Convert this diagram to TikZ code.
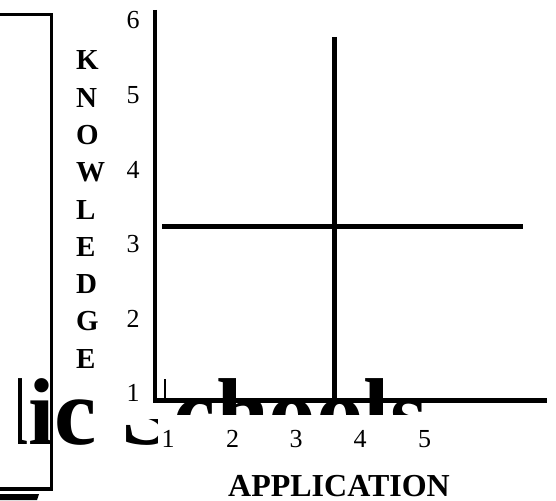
\documentclass[tikz,border=0pt]{standalone}
\usepackage{fontspec}
\setmainfont{Liberation Serif}

\begin{document}
\begin{tikzpicture}[x=1pt,y=-1pt,
  banner/.style={font=\bfseries\fontsize{95}{95}\selectfont, inner sep=0pt, outer sep=0pt},
  numlab/.style={font=\fontsize{26}{26}\selectfont, inner sep=0pt, anchor=base},
  axletter/.style={font=\bfseries\fontsize{29}{29}\selectfont, inner sep=0pt, anchor=base west},
  axtitle/.style={font=\bfseries\fontsize{32}{32}\selectfont, inner sep=0pt, anchor=base}]
\useasboundingbox (0,0) rectangle (556,500);
% leftover title, mostly hidden
\begin{scope}
\clip (17.5,360) rectangle (110,470) (110,419) rectangle (157,470) (172,360) rectangle (556,414);
\node [banner, anchor=base east] (pub) at (97,444) {Public};
\node [banner, anchor=base west] (sch) at (121,444) {Schools};
\end{scope}
\fill [white] (170,360) rectangle (214,400.5);
\fill [white] (236,360) rectangle (363,400.5);
\fill [white] (392,360) rectangle (556,400.5);
% frame on the left
\draw [line width=3.5pt] (0,14.5) -- (51.5,14.5) -- (51.5,489) -- (0,489);
\fill (0,494) -- (39,494) -- (37,500) -- (0,500) -- cycle;
% axes
\draw [line width=4.5pt] (155,10) -- (155,400.5) -- (547,400.5);
\draw [line width=1.5pt] (165,379) -- (165,400);
\draw [line width=5pt] (162,226.5) -- (523,226.5);
\draw [line width=5pt] (334.5,37) -- (334.5,400);
% y numbers
\node [numlab] (y6) at (133,29) {6};
\node [numlab] (y5) at (133,103.6) {5};
\node [numlab] (y4) at (133,178.2) {4};
\node [numlab] (y3) at (133,252.8) {3};
\node [numlab] (y2) at (133,327.4) {2};
\node [numlab] (y1) at (133,401) {1};
% x numbers
\node [numlab] (x1) at (168,447) {1};
\node [numlab] (x2) at (232.5,447) {2};
\node [numlab] (x3) at (296,447) {3};
\node [numlab] (x4) at (360,447) {4};
\node [numlab] (x5) at (424.5,447) {5};
% axis titles
\node [axletter] (k1) at (76,70) {K};
\node [axletter] (k2) at (76,107.25) {N};
\node [axletter] (k3) at (76,144.5) {O};
\node [axletter] (k4) at (76,181.75) {W};
\node [axletter] (k5) at (76,219) {L};
\node [axletter] (k6) at (76,256.25) {E};
\node [axletter] (k7) at (76,293.5) {D};
\node [axletter] (k8) at (76,330.75) {G};
\node [axletter] (k9) at (76,368) {E};
\node [axtitle] (app) at (339,496) {APPLICATION};
\end{tikzpicture}
\end{document}
